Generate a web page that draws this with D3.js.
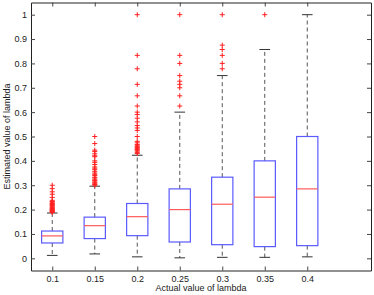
<!DOCTYPE html>
<html>
<head>
<meta charset="utf-8">
<script src="https://cdn.jsdelivr.net/npm/d3@7"></script>
<style>
  body { margin: 0; background: #fff; }
  svg { display: block; font-family: "Liberation Sans", Arial, Helvetica, sans-serif; }
</style>
</head>
<body>
<div id="chart"></div>
<script>
// box plot data
var categories = ["0.1", "0.15", "0.2", "0.25", "0.3", "0.35", "0.4"];
var q1 = [0.063, 0.081, 0.093, 0.067, 0.056, 0.048, 0.052];
var medians = [0.092, 0.134, 0.171, 0.2, 0.222, 0.251, 0.285];
var q3 = [0.112, 0.169, 0.225, 0.285, 0.333, 0.4, 0.5];
var whiskerLow = [0.012, 0.018, 0.006, 0.002, 0.004, 0.004, 0.006];
var whiskerHigh = [0.186, 0.296, 0.423, 0.6, 0.75, 0.857, 1.0];
var outliers = [
  [0.3, 0.286, 0.273, 0.263, 0.25, 0.238, 0.233, 0.231, 0.227, 0.225, 0.222, 0.22, 0.217, 0.214,
   0.211, 0.208, 0.205, 0.203, 0.2, 0.198, 0.197, 0.194, 0.192, 0.19, 0.188],
  [0.5, 0.471, 0.444, 0.438, 0.429, 0.421, 0.417, 0.4, 0.394, 0.385, 0.375, 0.37, 0.364, 0.357,
   0.35, 0.345, 0.34, 0.333, 0.33, 0.325, 0.32, 0.318, 0.313, 0.31, 0.306, 0.303, 0.3],
  [1.0, 0.833, 0.778, 0.714, 0.667, 0.625, 0.6, 0.59, 0.575, 0.56, 0.545, 0.535, 0.525, 0.5, 0.48,
   0.474, 0.467, 0.462, 0.458, 0.455, 0.45, 0.447, 0.444, 0.44, 0.435, 0.43],
  [1.0, 0.833, 0.8, 0.75, 0.727, 0.714, 0.7, 0.667, 0.625],
  [1.0, 0.875, 0.857, 0.833, 0.8, 0.778],
  [1.0],
  []
];
var yTicks = [0, 0.1, 0.2, 0.3, 0.4, 0.5, 0.6, 0.7, 0.8, 0.9, 1];

var width = 374, height = 295;
var margin = {left: 31, right: 371, top: 2.5, bottom: 270.5};

var svg = d3.select("#chart")
  .append("svg")
  .attr("width", width)
  .attr("height", height);

var x = d3.scaleLinear()
  .domain([0.5, 8.5])
  .range([margin.left, margin.right]);

var y = d3.scaleLinear()
  .domain([-0.05, 1.05])
  .range([margin.bottom, margin.top]);

var idx = d3.range(1, categories.length + 1);

// axes (ticks inside, box on)
svg.append("g")
  .attr("transform", "translate(0," + margin.bottom + ")")
  .call(d3.axisBottom(x).tickValues(idx).tickFormat(function(d){ return categories[d - 1]; })
    .tickSizeInner(-4).tickSizeOuter(0).tickPadding(5))
  .style("font-size", "9px");

svg.append("g")
  .attr("transform", "translate(0," + margin.top + ")")
  .call(d3.axisTop(x).tickValues(idx).tickFormat("").tickSizeInner(-4).tickSizeOuter(0));

svg.append("g")
  .attr("transform", "translate(" + margin.left + ",0)")
  .call(d3.axisLeft(y).tickValues(yTicks).tickFormat(d3.format("")).tickSizeInner(-4).tickSizeOuter(0).tickPadding(4))
  .style("font-size", "9px");

svg.append("g")
  .attr("transform", "translate(" + margin.right + ",0)")
  .call(d3.axisRight(y).tickValues(yTicks).tickFormat("").tickSizeInner(-4).tickSizeOuter(0));

svg.selectAll(".domain").attr("stroke", "#222");
svg.selectAll(".tick line").attr("stroke", "#444");
svg.selectAll(".tick text").attr("fill", "#222");

var boxes = svg.append("g").selectAll("g")
  .data(idx)
  .enter()
  .append("g");

// dashed whiskers
boxes.append("line")
  .attr("x1", d => x(d)).attr("x2", d => x(d))
  .attr("y1", d => y(q3[d - 1])).attr("y2", d => y(whiskerHigh[d - 1]))
  .attr("stroke", "#555").attr("stroke-dasharray", "4,3");
boxes.append("line")
  .attr("x1", d => x(d)).attr("x2", d => x(d))
  .attr("y1", d => y(q1[d - 1])).attr("y2", d => y(whiskerLow[d - 1]))
  .attr("stroke", "#555").attr("stroke-dasharray", "4,3");

// whisker caps
boxes.append("line")
  .attr("x1", d => x(d - 0.125)).attr("x2", d => x(d + 0.125))
  .attr("y1", d => y(whiskerHigh[d - 1])).attr("y2", d => y(whiskerHigh[d - 1]))
  .attr("stroke", "#333");
boxes.append("line")
  .attr("x1", d => x(d - 0.125)).attr("x2", d => x(d + 0.125))
  .attr("y1", d => y(whiskerLow[d - 1])).attr("y2", d => y(whiskerLow[d - 1]))
  .attr("stroke", "#333");

// boxes
boxes.append("rect")
  .attr("x", d => x(d - 0.25))
  .attr("y", d => y(q3[d - 1]))
  .attr("width", d => x(d + 0.25) - x(d - 0.25))
  .attr("height", d => y(q1[d - 1]) - y(q3[d - 1]))
  .attr("fill", "none")
  .attr("stroke", "#5a5aff")
  .attr("stroke-width", 1.2);

// medians
boxes.append("line")
  .attr("x1", d => x(d - 0.25)).attr("x2", d => x(d + 0.25))
  .attr("y1", d => y(medians[d - 1])).attr("y2", d => y(medians[d - 1]))
  .attr("stroke", "#ff5a5a").attr("stroke-width", 1.2);

// outliers as red plus marks
var pts = [];
outliers.forEach(function(list, i) {
  list.forEach(function(v){ pts.push({i: i + 1, v: v}); });
});
svg.append("g").selectAll("path")
  .data(pts)
  .enter()
  .append("path")
  .attr("d", function(d){
    var cx = x(d.i), cy = y(d.v);
    return "M" + (cx - 2.5) + "," + cy + "H" + (cx + 2.5) + "M" + cx + "," + (cy - 2.5) + "V" + (cy + 2.5);
  })
  .attr("stroke", "#ff2020")
  .attr("stroke-width", 1)
  .attr("fill", "none");

// axis titles
svg.append("text")
  .attr("x", (margin.left + margin.right) / 2)
  .attr("y", 291)
  .attr("text-anchor", "middle")
  .style("font-size", "9px")
  .attr("fill", "#222")
  .text("Actual value of lambda");

svg.append("text")
  .attr("transform", "translate(10," + (margin.top + margin.bottom) / 2 + ") rotate(-90)")
  .attr("text-anchor", "middle")
  .style("font-size", "9px")
  .attr("fill", "#222")
  .text("Estimated value of lambda");
</script>
</body>
</html>
